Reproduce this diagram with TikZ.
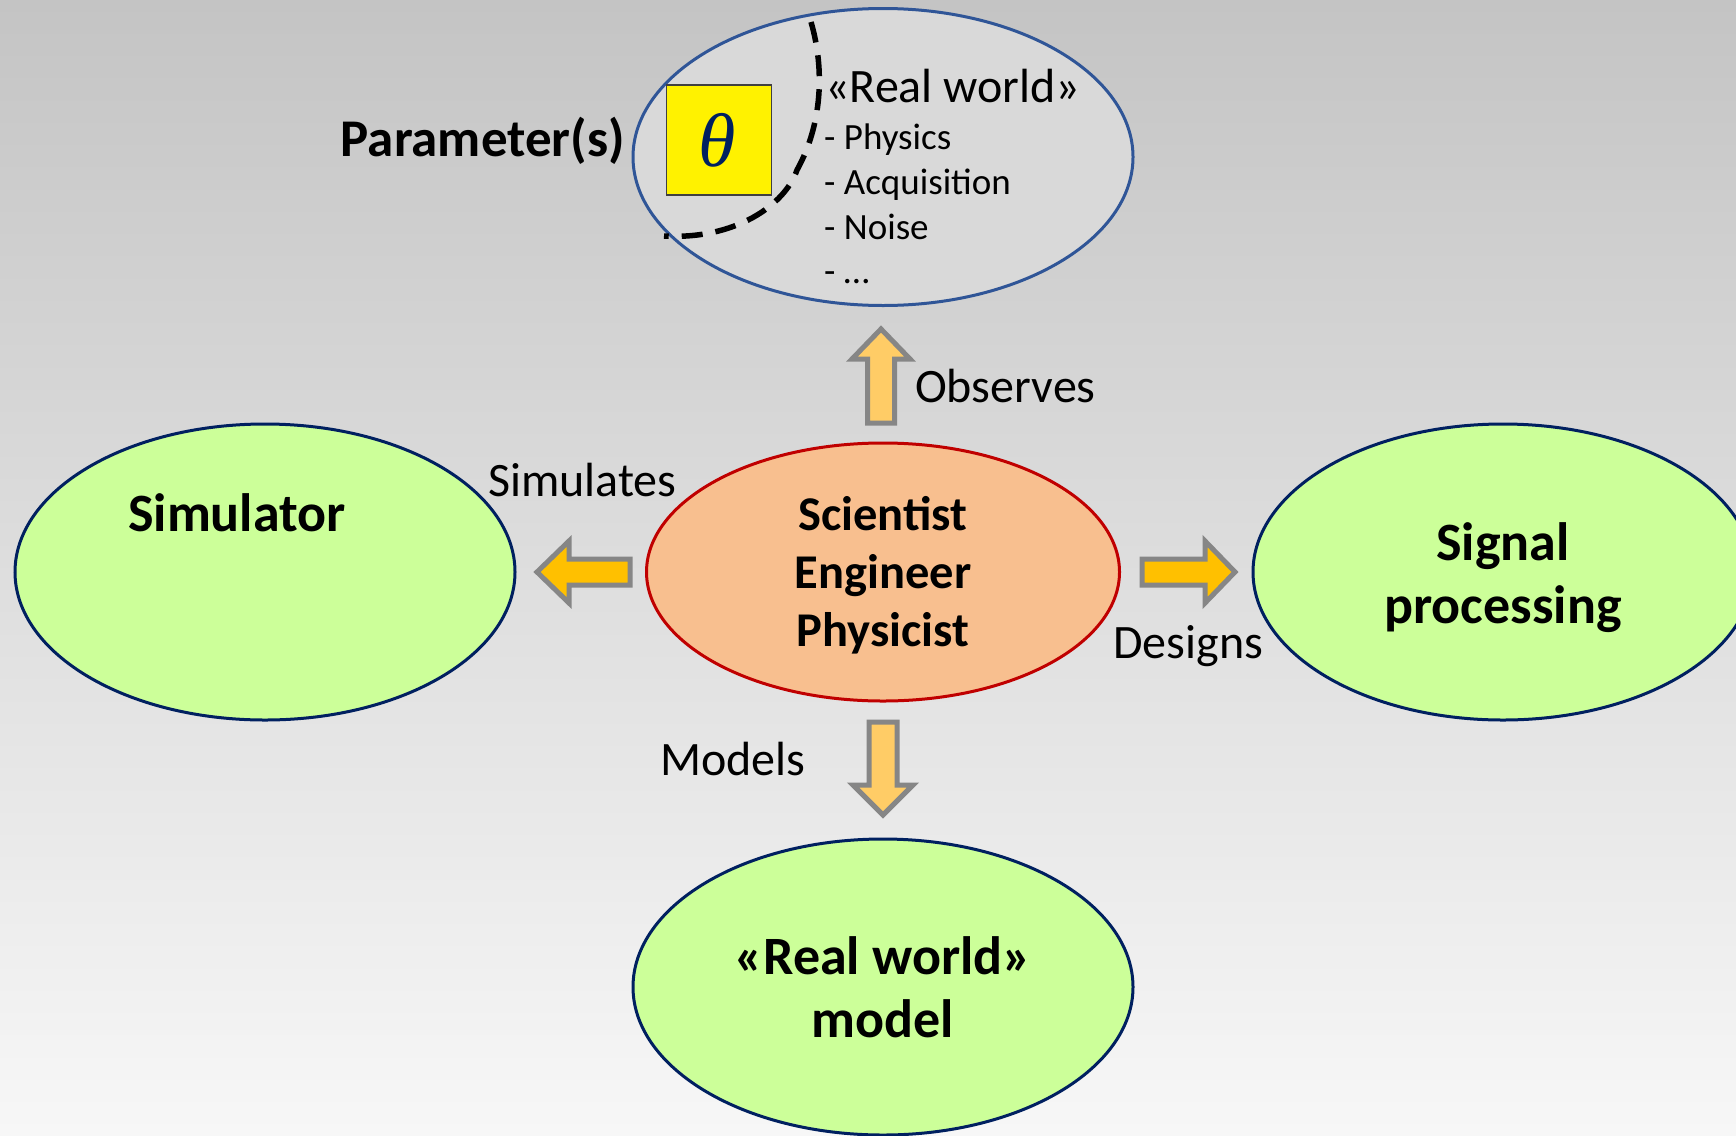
\documentclass[tikz,border=0pt]{standalone}
\usepackage{fontspec}
\setmainfont{Carlito}
\newfontfamily\thetafont{Liberation Serif}
\usetikzlibrary{shapes.geometric}
\definecolor{bgtop}{HTML}{C4C4C4}
\definecolor{bgbot}{HTML}{F7F7F7}
\definecolor{greenfill}{HTML}{CCFF99}
\definecolor{navy}{HTML}{002060}
\definecolor{topblue}{HTML}{2F5597}
\definecolor{topfill}{HTML}{D9D9D9}
\definecolor{peach}{HTML}{F8BF8F}
\definecolor{darkred}{HTML}{C00000}
\definecolor{lightorange}{HTML}{FFCC66}
\definecolor{gold}{HTML}{FFC000}
\tikzset{
  oval/.style={ellipse, draw=navy, line width=3pt, fill=greenfill, inner sep=0pt},
  bigbold/.style={font=\fontsize{54}{63}\selectfont\bfseries, align=center, inner sep=0pt},
  midbold/.style={font=\fontsize{48.5}{58}\selectfont\bfseries, align=center, inner sep=0pt},
  plain/.style={font=\fontsize{48}{56}\selectfont, inner sep=0pt},
  small/.style={font=\fontsize{37}{45}\selectfont, inner sep=0pt},
  blockarrow/.style={draw=gray!95, line width=5pt, line join=miter},
}
\begin{document}
\begin{tikzpicture}[x=1pt,y=-1pt]
\useasboundingbox (0,0) rectangle (1736,1135);
\clip (0,0) rectangle (1736,1135);
\shade[top color=bgtop, bottom color=bgbot] (0,0) rectangle (1736,1135);

% ellipses
\node[oval, fill=topfill, draw=topblue, minimum width=500pt, minimum height=297pt] (world) at (883,157) {};
\node[oval, minimum width=500pt, minimum height=296pt] (sim) at (265,572) {};
\node[oval, minimum width=500pt, minimum height=296pt] (sig) at (1503,572) {};
\node[oval, minimum width=500pt, minimum height=296pt] (model) at (883,987) {};
\node[oval, fill=peach, draw=darkred, minimum width=473pt, minimum height=258pt] (sci) at (883,572) {};

\node[bigbold, anchor=base] (simtext) at (237,531) {Simulator};
\node[midbold] (scitext) at (883,575) {Scientist\\Engineer\\Physicist};
\node[bigbold] (sigtext) at (1503,578) {Signal\\processing};
\node[bigbold] (modeltext) at (883,987) {«Real world»\\model};

% parameter box and dashed boundary
\node[draw=black!75, line width=1.5pt, fill=yellow, minimum width=105pt, minimum height=110pt, inner sep=0pt] (theta) at (719,140) {};
\node[text=navy, font=\thetafont\itshape\fontsize{76}{76}\selectfont, inner sep=0pt] (thetasym) at (717.5,140.5) {θ};
\draw[line width=5.5pt, dash pattern=on 21pt off 13pt] (811,22) .. controls (825,70) and (822,125) .. (797,170) .. controls (785,205) and (735,240) .. (664,236);
\node[font=\fontsize{53}{60}\selectfont\bfseries, anchor=base east, inner sep=0pt] (param) at (625,156) {Parameter(s)};

% real world list
\node[font=\fontsize{48}{50}\selectfont, anchor=base west, inner sep=0pt] (rw) at (825,102) {«Real world»};
\node[small, anchor=base west] (l1) at (824,149) {- Physics};
\node[small, anchor=base west] (l2) at (824,194) {- Acquisition};
\node[small, anchor=base west] (l3) at (824,239) {- Noise};
\node[small, anchor=base west] (l4) at (824,283) {- …};

% block arrows
\draw[blockarrow, fill=lightorange] (867.5,423) -- (867.5,359) -- (852,359) -- (881,329) -- (910,359) -- (894.5,359) -- (894.5,423) -- cycle;
\draw[blockarrow, fill=gold] (630,559) -- (569,559) -- (569,541) -- (537,572) -- (569,603) -- (569,585) -- (630,585) -- cycle;
\draw[blockarrow, fill=gold] (1142,559) -- (1205,559) -- (1205,541) -- (1235,572) -- (1205,603) -- (1205,585) -- (1142,585) -- cycle;
\draw[blockarrow, fill=lightorange] (869,722) -- (897,722) -- (897,785) -- (913,785) -- (883,815) -- (853,785) -- (869,785) -- cycle;

% labels
\node[plain, anchor=base west] (obs) at (915,402) {Observes};
\node[plain, anchor=base west] (simul) at (488,496) {Simulates};
\node[plain, anchor=base west] (des) at (1113,658) {Designs};
\node[plain, anchor=base west] (mod) at (660,775) {Models};
\end{tikzpicture}
\end{document}
